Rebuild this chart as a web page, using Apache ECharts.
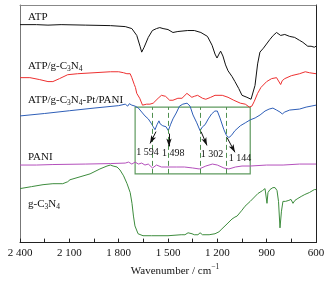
<!DOCTYPE html>
<html>
<head>
<meta charset="utf-8">
<script src="https://cdn.jsdelivr.net/npm/echarts@6/dist/echarts.min.js"></script>
<style>html,body{margin:0;padding:0;background:#fff;}#c{width:330px;height:282px;}</style>
</head>
<body>
<div id="c"></div>
<script>
// x: wavenumber (cm-1), y: transmittance (arbitrary, offset)
const atp = [[2400,222],[2300,222],[2230,221.5],[2150,222],[2000,221.5],[1850,221],[1760,220],[1720,218],[1690,211],[1670,200],[1660,194],[1645,199],[1620,209],[1595,216],[1585,214],[1570,218],[1560,217],[1550,219],[1540,217],[1530,218],[1500,217],[1470,214],[1440,215],[1380,216],[1340,216],[1300,214],[1260,210],[1232,201],[1214,192],[1202,188],[1190,192],[1180,195],[1166,190],[1150,181],[1135,175],[1110,169],[1093,164],[1070,157],[1050,150],[1020,148],[995,146],[985,146],[971,160],[955,182],[941,194],[920,198],[910,200],[880,207],[860,211],[840,214],[831,213],[815,211],[790,212],[760,210],[730,209],[700,206],[680,204],[650,200],[630,200],[610,199],[600,200]];
const atpCN = [[2400,168],[2340,168],[2280,166],[2230,164],[2200,164],[2160,167],[2110,171],[2050,172],[1950,173],[1850,174],[1800,174],[1770,173],[1760,175],[1750,172],[1740,171],[1730,172],[1720,168],[1712,170],[1705,161],[1698,158],[1690,152],[1680,150],[1672,147],[1655,140],[1630,141],[1610,141],[1590,142],[1560,147],[1540,150],[1515,149],[1490,145],[1470,145],[1440,147],[1415,147],[1385,152],[1375,153],[1355,148],[1340,149],[1320,150],[1290,147],[1270,146],[1240,148],[1214,150],[1170,150],[1135,148],[1100,145],[1060,142],[1030,141],[1005,138],[990,139],[975,144],[955,152],[935,158],[900,164],[870,167],[840,168],[830,167],[815,161],[805,165],[790,167],[750,170],[700,172],[665,174],[640,173],[600,172]];
const atpCNPtPani = [[2400,129],[2250,131.5],[2100,134.3],[1950,137],[1800,139.5],[1760,141],[1745,139],[1735,141.5],[1720,140],[1700,139],[1690,138],[1680,137],[1670,135],[1660,133],[1650,131],[1640,129],[1630,128],[1620,126],[1610,124],[1600,121],[1590,118],[1579,115],[1567,120],[1555,124],[1548,121],[1540,123],[1532,119],[1525,121],[1512,118],[1498,114],[1485,120],[1470,126],[1450,132],[1430,139],[1410,141],[1384,142],[1366,139],[1348,130],[1325,122],[1305,114],[1290,118],[1275,120],[1255,126],[1235,131],[1215,134],[1200,134],[1184,127],[1160,115],[1144,109],[1130,107],[1115,109],[1093,114],[1060,119],[1030,122],[1000,125],[970,127],[940,130],[910,134],[885,136],[862,137],[840,135],[819,133],[805,131],[790,133],[760,135],[700,136],[660,138],[630,139],[600,140]];
const pani = [[2400,79],[2300,79],[2200,79.5],[2000,80],[1850,80.5],[1760,81],[1740,82],[1720,80],[1700,82],[1680,80],[1660,81],[1640,79],[1620,80],[1594,76],[1570,79],[1540,77],[1500,77],[1450,77],[1400,77],[1350,76],[1310,75],[1270,78],[1230,80],[1200,79],[1160,76],[1130,75],[1090,77],[1050,78],[1000,78],[900,79],[800,79],[700,80],[600,80]];
const gcn = [[2400,55],[2330,57],[2260,59],[2200,60],[2140,60],[2110,62],[2096,64],[2035,67],[1974,70],[1914,75],[1871,78],[1860,77],[1850,79],[1834,78],[1810,77],[1792,74],[1770,68],[1749,60],[1730,51],[1719,40],[1710,27],[1701,17],[1682,9],[1652,7],[1600,7],[1500,7],[1420,8],[1397,8],[1378,10],[1366,12],[1354,9],[1340,8],[1318,8],[1305,10],[1290,8],[1250,8],[1214,9],[1190,11],[1172,14],[1141,19],[1111,24],[1093,26],[1080,27],[1050,33],[1032,37],[1000,42],[989,44],[953,50],[925,53],[910,55],[904,53],[898,40],[892,51],[880,54],[862,56],[849,56],[837,53],[828,42],[819,15],[810,32],[801,42],[785,42],[765,43],[752,44],[740,40],[728,43],[710,45],[690,47],[668,49],[640,51],[610,54],[600,54]];

const seriesNames = ['ATP', 'ATP/g-C3N4', 'ATP/g-C3N4-Pt/PANI', 'PANI', 'g-C3N4'];
const peakWavenumbers = [1594, 1498, 1302, 1144];
const peakLabels = ['1 594', '1 498', '1 302', '1 144'];
const xTickValues = [2400, 2100, 1800, 1500, 1200, 900, 600];
const xTickLabels = ['2 400', '2 100', '1 800', '1 500', '1 200', '900', '600'];

const FONT = '"Liberation Serif","Times New Roman",serif';
const chart = echarts.init(document.getElementById('c'), null, {renderer: 'canvas'});

function line(name, data, color) {
  return {name, type: 'line', data, showSymbol: false, symbol: 'none', smooth: false,
    lineStyle: {color, width: 1}, silent: true, animation: false, z: 3};
}

const richSub = {
  a: {fontFamily: FONT, fontSize: 11, color: '#111', lineHeight: 13},
  s: {fontFamily: FONT, fontSize: 7.5, color: '#111', lineHeight: 13, verticalAlign: 'bottom', padding: [0,0,0,0]}
};
function nameLabel(text, left, top) {
  return {text, left, top, padding: 0, itemGap: 0,
    textStyle: {fontFamily: FONT, fontSize: 11, fontWeight: 'normal', color: '#111', rich: richSub}};
}

// annotation geometry (data coordinates)
const boxX = [1700, 1000], boxY = [70, 138];
const arrowTails = [[1573,113],[1494,111],[1299,113],[1141,107]];
const arrowHeads = [[1609,101],[1494,98],[1263,99],[1093,92]];
const labelPos = [[1624,92],[1468,91],[1232,90],[1062,86]];

const annot = {
  type: 'line', data: [], silent: true, animation: false, z: 2,
  markArea: {silent: true, itemStyle: {color: 'rgba(0,0,0,0)', borderColor: '#5f9a5f', borderWidth: 1.2},
    data: [[{coord: [boxX[0], boxY[0]]}, {coord: [boxX[1], boxY[1]]}]]},
  markLine: {silent: true, animation: false, symbol: ['none','none'],
    label: {show: false},
    data: peakWavenumbers.map(w => [
      {coord: [w, boxY[0]], lineStyle: {color: '#4f8f4f', type: [5,3], width: 1}},
      {coord: [w, boxY[1]]}
    ]).concat(arrowTails.map((t, i) => [
      {coord: t, symbol: 'none', lineStyle: {color: '#111', type: 'solid', width: 1}},
      {coord: arrowHeads[i], symbol: 'arrow', symbolSize: [4, 8]}
    ]))
  },
  markPoint: {silent: true, symbol: 'circle', symbolSize: 1, itemStyle: {color: 'rgba(0,0,0,0)'},
    label: {show: true, position: 'inside', fontFamily: FONT, fontSize: 10, color: '#111',
      formatter: p => p.name},
    data: labelPos.map((c, i) => ({name: peakLabels[i], coord: c}))
  }
};

chart.setOption({
  animation: false,
  backgroundColor: '#fff',
  grid: {left: 20, right: 14, top: 5, bottom: 35},
  title: [
    nameLabel('{a|ATP}', 28, 11),
    nameLabel('{a|ATP/g-C}{s|3}{a|N}{s|4}', 28, 60),
    nameLabel('{a|ATP/g-C}{s|3}{a|N}{s|4}{a|-Pt/PANI}', 28, 94),
    nameLabel('{a|PANI}', 28, 151),
    nameLabel('{a|g-C}{s|3}{a|N}{s|4}', 28, 198)
  ],
  xAxis: [{
    type: 'value', inverse: true, min: 600, max: 2400, interval: 150,
    axisLine: {show: true, onZero: false, lineStyle: {color: '#222', width: 1}},
    axisTick: {show: true, inside: true, length: 4, lineStyle: {color: '#222'}},
    splitLine: {show: false},
    axisLabel: {margin: 5, fontFamily: FONT, fontSize: 11, color: '#111',
      formatter: v => { const i = xTickValues.indexOf(v); return i >= 0 ? xTickLabels[i] : ''; }},
    name: '{a|Wavenumber / cm}{b|−1}', nameLocation: 'middle', nameGap: 15,
    nameTextStyle: {padding: [0,0,0,14], rich: {
      a: {fontFamily: FONT, fontSize: 11, color: '#111', lineHeight: 14},
      b: {fontFamily: FONT, fontSize: 7.5, color: '#111', lineHeight: 14, verticalAlign: 'top', padding: [-1,0,0,0]}
    }}
  }, {
    type: 'value', position: 'top', min: 600, max: 2400, inverse: true,
    axisLine: {show: true, onZero: false, lineStyle: {color: '#888', width: 1}},
    axisTick: {show: false}, axisLabel: {show: false}, splitLine: {show: false}
  }],
  yAxis: [{
    type: 'value', min: 0, max: 242,
    axisLine: {show: true, onZero: false, lineStyle: {color: '#777', width: 1}},
    axisTick: {show: false}, axisLabel: {show: false}, splitLine: {show: false}
  }, {
    type: 'value', position: 'right', min: 0, max: 242,
    axisLine: {show: true, onZero: false, lineStyle: {color: '#222', width: 1}},
    axisTick: {show: false}, axisLabel: {show: false}, splitLine: {show: false}
  }],
  series: [
    line(seriesNames[0], atp, '#111111'),
    line(seriesNames[1], atpCN, '#ee3030'),
    line(seriesNames[2], atpCNPtPani, '#2f5fb8'),
    line(seriesNames[3], pani, '#b450bc'),
    line(seriesNames[4], gcn, '#3d8c3d'),
    annot
  ]
});
</script>
</body>
</html>
